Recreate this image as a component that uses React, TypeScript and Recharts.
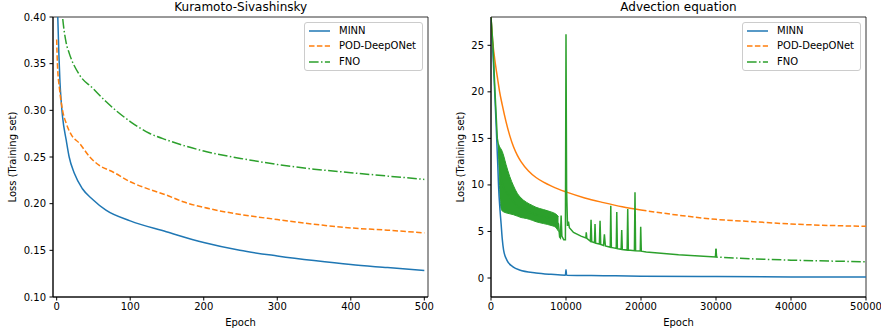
import React from "react";
import { ComposedChart, Line, Area, XAxis, YAxis, ReferenceArea } from "recharts";

const BLUE = "#1f77b4";
const ORANGE = "#ff7f0e";
const GREEN = "#2ca02c";
const DASHED = "5.5 2.4";
const DASHDOT = "9.6 2.4 1.5 2.4";

// ---- Kuramoto-Sivashinsky (left) ----
const ksMinnEpoch = [0, 1.5, 3, 4.5, 6, 8, 13, 17, 24, 35, 49, 67, 100, 149, 200, 249, 300, 350, 400, 450, 500];
const ksMinn = [0.46, 0.4, 0.36, 0.33, 0.311, 0.293, 0.268, 0.25, 0.2325, 0.216, 0.2045, 0.193, 0.1816, 0.17, 0.1583, 0.15, 0.144, 0.139, 0.1347, 0.1315, 0.1283];

const ksPodEpoch = [0, 1, 4, 8, 13, 20, 31, 45, 58, 76, 100, 126, 150, 172, 200, 250, 300, 350, 400, 450, 500];
const ksPod = [0.376, 0.35, 0.322, 0.3, 0.286, 0.2736, 0.2647, 0.25, 0.241, 0.2342, 0.2235, 0.2153, 0.209, 0.202, 0.196, 0.1884, 0.183, 0.178, 0.174, 0.1716, 0.1687];

const ksFnoEpoch = [0, 4, 8, 13, 17, 31, 49, 67, 100, 126, 150, 200, 250, 300, 350, 400, 450, 500];
const ksFno = [0.5, 0.44, 0.4, 0.372, 0.3613, 0.338, 0.3237, 0.3094, 0.288, 0.2754, 0.2682, 0.2564, 0.2485, 0.242, 0.237, 0.2332, 0.2296, 0.226];

const ksXTicks = [0, 100, 200, 300, 400, 500];
const ksYTicks = [0.1, 0.15, 0.2, 0.25, 0.3, 0.35, 0.4];

// ---- Advection equation (right) ----
const advMinnEpoch = [0, 300, 600, 900, 1000, 1200, 1350, 1500, 1680, 2130, 2930, 3800, 6000, 8000, 9920, 10000, 10080, 15000, 20000, 30000, 40000, 50000];
const advMinn = [28, 23.5, 18, 12.2, 10, 7.3, 5.8, 4.2, 3.0, 1.9, 1.2, 0.86, 0.55, 0.4, 0.3, 0.9, 0.3, 0.25, 0.2, 0.15, 0.12, 0.1];

const advPodEpoch = [0, 250, 500, 900, 1150, 1500, 2000, 2500, 3000, 3500, 4000, 5000, 6000, 7000, 8000, 9000, 10000, 12500, 15000, 17500, 20000, 25000, 30000, 35000, 40000, 45000, 50000];
const advPod = [28, 25.2, 23.5, 21.3, 20, 18.6, 16.8, 15.3, 14.1, 13.2, 12.5, 11.5, 10.8, 10.3, 9.9, 9.55, 9.25, 8.6, 8.1, 7.65, 7.3, 6.75, 6.3, 6.05, 5.8, 5.65, 5.55];

const advFnoEpoch = [
  0, 266, 532, 840, 1000, 1150, 1300, 1500, 1700, 2000, 2500, 3000, 3500, 4000, 4700, 5500, 6000, 7000, 8000, 8600, 9000,
  9150, 9250, 9350, 9450, 9700, 9920, 10000, 10080, 10200, 10330, 10450, 11000, 12000, 12650, 12700, 12780,
  13250, 13340, 13430, 13800, 13870, 13950, 14450, 14540, 14630, 15000, 15120, 15250, 15900, 15970, 16050,
  16700, 16770, 16850, 17350, 17430, 17510, 18150, 18230, 18310, 19120, 19200, 19280, 19900, 19960, 20040,
  20700, 25000, 29920, 30000, 30080, 35000, 40000, 45000, 50000,
];
const advFno = [
  28, 25, 20, 15, 14.2, 12, 10.8, 10.2, 9.7, 9.3, 8.7, 8.2, 7.7, 7.45, 7.2, 6.95, 6.8, 6.6, 6.4, 6.2, 5.8,
  4.4, 4.3, 6.7, 4.5, 4.1, 4.1, 26.2, 9.6, 5.6, 6.05, 5.4, 4.9, 4.5, 4.3, 4.9, 4.25,
  3.95, 6.25, 3.9, 3.8, 5.8, 3.75, 3.65, 6.15, 3.6, 3.5, 4.7, 3.45, 3.3, 7.75, 3.28,
  3.18, 7.1, 3.15, 3.08, 5.15, 3.05, 3.0, 7.4, 3.0, 2.93, 9.2, 2.93, 2.9, 5.5, 2.88,
  2.8, 2.5, 2.25, 3.15, 2.25, 2.05, 1.92, 1.82, 1.75,
];

// dense oscillation band of the FNO loss
const advFnoBandEpoch = [1000, 1150, 1300, 1500, 1700, 2000, 2500, 3000, 3500, 4000, 4700, 5500, 6000, 7000, 8000, 8600, 9000];
const advFnoBandLow = [14.0, 9.5, 7.6, 7.2, 7.1, 7.0, 6.9, 6.8, 6.65, 6.5, 6.4, 6.2, 6.05, 5.85, 5.65, 5.45, 5.0];
const advFnoBandHigh = [14.4, 14.1, 13.9, 13.6, 13.1, 12.2, 10.9, 9.9, 9.1, 8.6, 8.15, 7.8, 7.6, 7.35, 7.1, 6.9, 6.6];

const advXTicks = [0, 10000, 20000, 30000, 40000, 50000];
const advYTicks = [0, 5, 10, 15, 20, 25];

const legendNames = ["MINN", "POD-DeepONet", "FNO"];
const legendColors = [BLUE, ORANGE, GREEN];
const legendDash = [undefined, DASHED, DASHDOT];

const zip = (xs: number[], ys: number[]) => xs.map((x, i) => ({ x, y: ys[i] }));

const tickStyle = { fontSize: 10, fill: "#000" };

function YLabel({ viewBox, lx }: any) {
  const cy = viewBox.y + viewBox.height / 2;
  return (
    <text x={lx} y={cy} transform={`rotate(-90, ${lx}, ${cy})`} textAnchor="middle" dominantBaseline="central" fontSize={10} fill="#000">
      Loss (Training set)
    </text>
  );
}

function XLabel({ viewBox }: any) {
  return (
    <text x={viewBox.x + viewBox.width / 2} y={viewBox.y + 25.7} textAnchor="middle" dominantBaseline="central" fontSize={10} fill="#000">
      Epoch
    </text>
  );
}

function LegendBox({ left }: { left: number }) {
  return (
    <div
      style={{
        position: "absolute",
        left,
        top: 22,
        width: 119,
        height: 49,
        border: "1px solid #cccccc",
        borderRadius: 3,
        background: "rgba(255,255,255,0.8)",
        boxSizing: "border-box",
        fontSize: 10,
      }}
    >
      {legendNames.map((name, i) => (
        <div key={name} style={{ position: "absolute", left: 3, top: 2 + i * 15.3, height: 12, display: "flex", alignItems: "center" }}>
          <svg width={23} height={12}>
            <line x1={1} x2={22} y1={6} y2={6} stroke={legendColors[i]} strokeWidth={1.5} strokeDasharray={legendDash[i]} />
          </svg>
          <span style={{ marginLeft: 8, lineHeight: "12px" }}>{name}</span>
        </div>
      ))}
    </div>
  );
}

function Title({ text, center }: { text: string; center: number }) {
  return (
    <div style={{ position: "absolute", left: center - 150, width: 300, top: 0, textAlign: "center", fontSize: 12, lineHeight: "14px" }}>
      {text}
    </div>
  );
}

function KsChart() {
  return (
    <ComposedChart width={440} height={335} margin={{ top: 17, right: 12, bottom: 0, left: 0 }}>
      <XAxis
        dataKey="x"
        type="number"
        domain={[-5, 505]}
        ticks={ksXTicks}
        allowDataOverflow
        height={38}
        tick={tickStyle}
        tickSize={3.5}
        tickMargin={2}
        stroke="#000"
        label={<XLabel />}
      />
      <YAxis
        type="number"
        domain={[0.1, 0.4]}
        ticks={ksYTicks}
        allowDataOverflow
        width={53}
        tick={tickStyle}
        tickSize={3.5}
        tickMargin={3.5}
        stroke="#000"
        tickFormatter={(v: number) => v.toFixed(2)}
        label={<YLabel lx={12.7} />}
      />
      <ReferenceArea x1={-5} x2={505} y1={0.1} y2={0.4} fill="none" stroke="#000" strokeWidth={0.8} />
      <Line data={zip(ksMinnEpoch, ksMinn)} dataKey="y" type="monotone" stroke={BLUE} strokeWidth={1.5} dot={false} isAnimationActive={false} />
      <Line data={zip(ksPodEpoch, ksPod)} dataKey="y" type="monotone" stroke={ORANGE} strokeWidth={1.5} strokeDasharray={DASHED} dot={false} isAnimationActive={false} />
      <Line data={zip(ksFnoEpoch, ksFno)} dataKey="y" type="monotone" stroke={GREEN} strokeWidth={1.5} strokeDasharray={DASHDOT} dot={false} isAnimationActive={false} />
    </ComposedChart>
  );
}

function AdvChart() {
  const pod = zip(advPodEpoch, advPod);
  const fno = zip(advFnoEpoch, advFno);
  const band = advFnoBandEpoch.map((x, i) => ({ x, range: [advFnoBandLow[i], advFnoBandHigh[i]] }));
  return (
    <ComposedChart width={441} height={335} margin={{ top: 17, right: 15, bottom: 0, left: 0 }}>
      <XAxis
        dataKey="x"
        type="number"
        domain={[0, 50000]}
        ticks={advXTicks}
        allowDataOverflow
        height={38}
        tick={tickStyle}
        tickSize={3.5}
        tickMargin={2}
        stroke="#000"
        label={<XLabel />}
      />
      <YAxis
        type="number"
        domain={[-2.04, 28.04]}
        ticks={advYTicks}
        allowDataOverflow
        width={51}
        tick={tickStyle}
        tickSize={3.5}
        tickMargin={3.5}
        stroke="#000"
        label={<YLabel lx={20} />}
      />
      <ReferenceArea x1={0} x2={50000} y1={-2.04} y2={28.04} fill="none" stroke="#000" strokeWidth={0.8} />
      <Line data={zip(advMinnEpoch, advMinn)} dataKey="y" type="monotone" stroke={BLUE} strokeWidth={1.5} dot={false} isAnimationActive={false} />
      <Line data={pod.filter((p) => p.x <= 20000)} dataKey="y" type="monotone" stroke={ORANGE} strokeWidth={1.5} dot={false} isAnimationActive={false} />
      <Line data={pod.filter((p) => p.x >= 20000)} dataKey="y" type="monotone" stroke={ORANGE} strokeWidth={1.5} strokeDasharray={DASHED} dot={false} isAnimationActive={false} />
      <Area data={band} dataKey="range" type="monotone" stroke={GREEN} strokeWidth={1} fill={GREEN} fillOpacity={1} isAnimationActive={false} />
      <Line data={fno.filter((p) => p.x <= 30000)} dataKey="y" type="linear" stroke={GREEN} strokeWidth={1.5} dot={false} isAnimationActive={false} />
      <Line data={fno.filter((p) => p.x >= 30000)} dataKey="y" type="linear" stroke={GREEN} strokeWidth={1.5} strokeDasharray={DASHDOT} dot={false} isAnimationActive={false} />
    </ComposedChart>
  );
}

export default function App() {
  return (
    <div style={{ position: "absolute", left: 0, top: 0, width: 881, height: 335, background: "#fff", fontFamily: "'DejaVu Sans', sans-serif", color: "#000" }}>
      <div style={{ position: "absolute", left: 0, top: 0 }}>
        <KsChart />
      </div>
      <div style={{ position: "absolute", left: 440, top: 0 }}>
        <AdvChart />
      </div>
      <Title text="Kuramoto-Sivashinsky" center={240.7} />
      <Title text="Advection equation" center={678.5} />
      <LegendBox left={304} />
      <LegendBox left={742} />
    </div>
  );
}
